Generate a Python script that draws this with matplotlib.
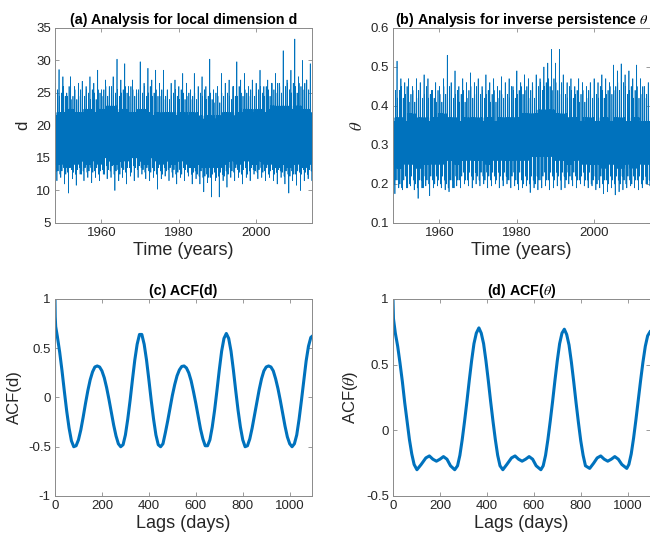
import numpy as np
import matplotlib
matplotlib.use("Agg")
import matplotlib.pyplot as plt
from matplotlib.ticker import FuncFormatter

plt.rcParams['font.family'] = ['Liberation Sans', 'DejaVu Sans']
plt.rcParams['mathtext.fontset'] = 'stix'
plt.rcParams['axes.unicode_minus'] = False

# ---- data ----
years = np.arange(1948, 2015)

# local dimension d: yearly spike max / trough min
d_top = [26.5, 28.6, 27.5, 25.0, 27.5, 26.0, 26.5, 26.8, 26.0, 27.5,
         26.5, 28.5, 25.5, 27.0, 26.0, 27.5, 30.2, 27.0, 29.5, 26.0,
         27.0, 25.5, 29.8, 26.5, 28.8, 27.0, 28.5, 26.5, 28.5, 25.5,
         26.5, 27.0, 26.0, 28.0, 26.5, 25.5, 28.0, 26.0, 27.5, 26.0,
         30.2, 25.5, 26.0, 28.0, 26.5, 27.0, 26.0, 29.8, 27.0, 28.0,
         26.0, 27.0, 26.5, 28.5, 26.0, 27.0, 26.5, 28.0, 26.5, 31.5,
         27.0, 28.5, 33.3, 27.5, 30.0, 27.0, 29.5]
d_bot = [11.5, 12.0, 11.0, 9.6, 11.8, 10.8, 12.5, 11.5, 12.0, 11.2,
         12.0, 11.5, 12.5, 11.8, 12.0, 10.0, 11.5, 12.0, 11.0, 12.2,
         11.5, 12.0, 12.5, 11.8, 11.5, 12.0, 10.2, 11.8, 12.2, 11.5,
         12.0, 11.0, 12.0, 11.5, 12.2, 11.0, 11.8, 11.0, 9.8, 11.2,
         9.0, 11.5, 9.0, 11.5, 10.5, 12.0, 11.5, 12.0, 11.0, 12.0,
         11.5, 12.5, 11.8, 12.0, 11.5, 12.0, 11.5, 11.0, 12.0, 11.0,
         9.6, 11.5, 10.8, 10.0, 11.5, 11.8, 11.5]
# secondary (shoulder) highs and lows per year
d_hi2 = [25.0, 24.5, 26.0, 24.5, 24.0, 25.5, 24.5, 25.0, 25.5, 24.0,
         25.0, 25.5, 24.5, 26.0, 25.0, 24.5, 25.5, 25.0, 26.0, 24.5,
         25.5, 25.0, 24.5, 26.0, 25.0, 24.5, 25.5, 24.5, 24.0, 25.0,
         24.5, 25.5, 24.0, 25.0, 24.5, 24.0, 25.0, 25.5, 24.5, 24.0,
         25.0, 23.5, 24.5, 25.0, 24.0, 24.5, 26.0, 24.5, 25.0, 25.5,
         24.5, 25.5, 25.0, 26.0, 24.5, 25.5, 26.5, 25.0, 26.0, 25.5,
         26.5, 25.0, 26.0, 26.5, 25.5, 27.0, 25.5]
d_lo2 = [13.0, 12.5, 13.5, 12.8, 13.2, 12.5, 13.5, 13.0, 12.8, 13.5,
         13.0, 12.5, 13.2, 13.8, 13.0, 12.5, 13.2, 13.5, 12.8, 13.5,
         13.8, 13.2, 13.5, 12.8, 13.0, 13.5, 12.5, 13.0, 13.5, 13.2,
         12.8, 12.5, 13.2, 13.5, 12.8, 12.5, 13.0, 12.2, 12.0, 12.5,
         12.0, 12.8, 12.2, 12.5, 13.0, 13.5, 12.8, 13.2, 12.5, 13.5,
         13.0, 13.2, 12.8, 13.5, 13.0, 12.5, 13.2, 12.8, 13.0, 12.2,
         12.5, 13.0, 12.5, 12.8, 13.2, 12.5, 13.0]
# edges of the solid core per year
d_core_hi = [21.5, 22.0, 21.0, 22.5, 21.5, 21.0, 22.0, 21.5, 22.5, 21.0,
             22.0, 22.5, 21.5, 22.0, 23.0, 22.0, 21.5, 22.5, 22.0, 21.0,
             22.0, 21.5, 22.5, 22.0, 21.0, 21.5, 22.0, 21.0, 21.5, 22.0,
             21.0, 21.5, 22.0, 21.5, 21.0, 22.0, 21.5, 21.0, 20.5, 21.5,
             21.0, 20.5, 21.5, 21.0, 22.0, 21.5, 21.0, 22.0, 21.5, 22.5,
             22.0, 21.5, 22.5, 22.0, 21.5, 22.5, 23.0, 22.0, 22.5, 23.0,
             22.0, 22.5, 23.0, 22.0, 22.5, 22.0, 21.5]
d_core_lo = [14.0, 14.5, 14.0, 13.5, 14.5, 14.0, 15.0, 14.5, 14.0, 15.0,
             14.5, 14.0, 15.0, 15.5, 14.5, 14.0, 14.5, 15.0, 14.5, 15.0,
             15.5, 15.0, 14.5, 14.0, 15.0, 15.5, 14.5, 14.0, 15.0, 14.5,
             14.0, 14.5, 15.0, 14.5, 14.0, 13.5, 14.5, 14.0, 13.5, 14.0,
             13.5, 14.0, 13.5, 14.0, 14.5, 15.0, 14.5, 14.0, 14.5, 15.0,
             14.5, 14.0, 15.0, 14.5, 14.0, 14.5, 14.0, 13.5, 14.5, 14.0,
             13.5, 14.0, 14.5, 14.0, 13.5, 14.0, 14.5]

# inverse persistence theta
th_top = [0.44, 0.515, 0.47, 0.46, 0.47, 0.45, 0.47, 0.46, 0.48, 0.47,
          0.44, 0.46, 0.45, 0.47, 0.53, 0.46, 0.49, 0.45, 0.47, 0.46,
          0.485, 0.46, 0.47, 0.45, 0.48, 0.46, 0.47, 0.45, 0.475, 0.46,
          0.47, 0.45, 0.49, 0.46, 0.48, 0.47, 0.46, 0.48, 0.47, 0.50,
          0.51, 0.545, 0.51, 0.545, 0.48, 0.46, 0.47, 0.45, 0.47, 0.46,
          0.45, 0.46, 0.47, 0.46, 0.48, 0.47, 0.46, 0.505, 0.49, 0.508,
          0.48, 0.49, 0.47, 0.505, 0.47, 0.45, 0.46]
th_bot = [0.175, 0.19, 0.185, 0.19, 0.195, 0.185, 0.163, 0.19, 0.195, 0.17,
          0.19, 0.195, 0.19, 0.185, 0.18, 0.19, 0.195, 0.19, 0.2, 0.195,
          0.19, 0.2, 0.195, 0.2, 0.19, 0.195, 0.2, 0.19, 0.195, 0.2,
          0.19, 0.195, 0.185, 0.19, 0.195, 0.178, 0.19, 0.185, 0.19, 0.195,
          0.185, 0.19, 0.195, 0.185, 0.19, 0.2, 0.195, 0.19, 0.2, 0.195,
          0.19, 0.195, 0.185, 0.19, 0.175, 0.18, 0.19, 0.172, 0.18, 0.185,
          0.19, 0.195, 0.19, 0.185, 0.19, 0.2, 0.195]
th_hi2 = [0.44, 0.42, 0.45, 0.43, 0.41, 0.44, 0.42, 0.45, 0.43, 0.42,
          0.44, 0.41, 0.43, 0.45, 0.42, 0.44, 0.43, 0.41, 0.44, 0.42,
          0.45, 0.43, 0.42, 0.44, 0.43, 0.41, 0.44, 0.42, 0.43, 0.45,
          0.42, 0.44, 0.43, 0.45, 0.44, 0.42, 0.45, 0.44, 0.46, 0.45,
          0.47, 0.44, 0.46, 0.43, 0.45, 0.42, 0.44, 0.43, 0.41, 0.44,
          0.42, 0.43, 0.45, 0.42, 0.44, 0.43, 0.45, 0.44, 0.46, 0.43,
          0.45, 0.44, 0.42, 0.45, 0.43, 0.42, 0.44]
th_lo2 = [0.20, 0.21, 0.19, 0.22, 0.20, 0.21, 0.19, 0.21, 0.22, 0.20,
          0.21, 0.22, 0.20, 0.21, 0.19, 0.21, 0.22, 0.21, 0.23, 0.21,
          0.22, 0.23, 0.21, 0.22, 0.23, 0.21, 0.22, 0.23, 0.21, 0.22,
          0.21, 0.23, 0.20, 0.21, 0.22, 0.20, 0.21, 0.22, 0.21, 0.23,
          0.21, 0.22, 0.23, 0.21, 0.22, 0.23, 0.21, 0.22, 0.21, 0.23,
          0.21, 0.20, 0.22, 0.21, 0.20, 0.21, 0.22, 0.20, 0.21, 0.22,
          0.20, 0.21, 0.22, 0.21, 0.20, 0.22, 0.21]
th_core_hi = [0.36, 0.37, 0.35, 0.36, 0.38, 0.36, 0.35, 0.37, 0.36, 0.35,
              0.37, 0.36, 0.38, 0.37, 0.36, 0.37, 0.36, 0.35, 0.37, 0.36,
              0.36, 0.37, 0.35, 0.36, 0.37, 0.36, 0.35, 0.36, 0.37, 0.36,
              0.37, 0.36, 0.37, 0.38, 0.37, 0.38, 0.37, 0.38, 0.39, 0.38,
              0.39, 0.38, 0.37, 0.38, 0.37, 0.36, 0.37, 0.36, 0.35, 0.36,
              0.37, 0.36, 0.35, 0.36, 0.37, 0.36, 0.35, 0.36, 0.37, 0.36,
              0.35, 0.36, 0.37, 0.36, 0.36, 0.35, 0.36]
th_core_lo = [0.25, 0.24, 0.26, 0.25, 0.26, 0.25, 0.24, 0.26, 0.25, 0.26,
              0.25, 0.26, 0.25, 0.26, 0.27, 0.26, 0.25, 0.26, 0.27, 0.26,
              0.27, 0.26, 0.27, 0.26, 0.25, 0.26, 0.27, 0.26, 0.27, 0.26,
              0.26, 0.27, 0.26, 0.27, 0.26, 0.27, 0.28, 0.27, 0.28, 0.27,
              0.28, 0.27, 0.26, 0.27, 0.26, 0.25, 0.26, 0.27, 0.26, 0.25,
              0.26, 0.25, 0.26, 0.25, 0.24, 0.25, 0.26, 0.25, 0.24, 0.25,
              0.26, 0.25, 0.24, 0.25, 0.26, 0.25, 0.26]

# autocorrelation functions
lag_d = [0, 1, 3, 10, 20, 30, 40, 50, 60, 70, 80, 90, 100, 110, 120, 130, 140, 150, 160, 170,
         180, 190, 200, 210, 220, 230, 240, 250, 260, 270, 280, 290, 300, 310, 320, 330, 340,
         350, 360, 370, 380, 390, 400, 410, 420, 430, 440, 450, 460, 470, 480, 490, 500, 510,
         520, 530, 540, 550, 560, 570, 580, 590, 600, 610, 620, 630, 640, 650, 660, 670, 680,
         690, 700, 710, 720, 730, 740, 750, 760, 770, 780, 790, 800, 810, 820, 830, 840, 850,
         860, 870, 880, 890, 900, 910, 920, 930, 940, 950, 960, 970, 980, 990, 1000, 1010,
         1020, 1030, 1040, 1050, 1060, 1070, 1080, 1090, 1095]
acf_d = [1.0, 0.82, 0.72, 0.62, 0.46, 0.27, 0.06, -0.14, -0.31, -0.44, -0.50, -0.49, -0.43,
         -0.33, -0.20, -0.06, 0.07, 0.18, 0.26, 0.31, 0.32, 0.31, 0.27, 0.20, 0.10, -0.02,
         -0.15, -0.28, -0.39, -0.47, -0.50, -0.48, -0.38, -0.22, -0.03, 0.18, 0.38, 0.54,
         0.64, 0.64, 0.54, 0.38, 0.18, -0.03, -0.22, -0.38, -0.48, -0.50, -0.47, -0.36,
         -0.24, -0.11, 0.02, 0.13, 0.22, 0.28, 0.315, 0.32, 0.30, 0.25, 0.17, 0.06, -0.06,
         -0.19, -0.32, -0.42, -0.49, -0.49, -0.43, -0.30, -0.13, 0.07, 0.28, 0.47, 0.60,
         0.65, 0.60, 0.47, 0.28, 0.07, -0.13, -0.30, -0.43, -0.50, -0.49, -0.42, -0.31,
         -0.18, -0.05, 0.08, 0.19, 0.27, 0.31, 0.32, 0.31, 0.27, 0.19, 0.09, -0.03, -0.16,
         -0.29, -0.40, -0.47, -0.50, -0.47, -0.38, -0.22, -0.03, 0.17, 0.37, 0.52, 0.61, 0.62]

lag_th = [0, 2, 10, 20, 30, 40, 50, 60, 70, 80, 90, 102, 120, 140, 155, 170, 185, 200, 215,
          230, 245, 263, 275, 285, 295, 305, 315, 325, 335, 345, 355, 366, 376, 386, 396,
          406, 416, 426, 436, 446, 456, 468, 485, 505, 520, 535, 550, 565, 580, 595, 610,
          630, 640, 650, 660, 670, 680, 690, 700, 710, 720, 730, 740, 750, 760, 770, 780,
          790, 800, 810, 820, 838, 855, 870, 885, 900, 915, 930, 945, 960, 975, 996, 1005,
          1015, 1025, 1035, 1045, 1055, 1065, 1075, 1085, 1095]
acf_th = [1.0, 0.85, 0.74, 0.64, 0.51, 0.37, 0.21, 0.07, -0.07, -0.18, -0.26, -0.30, -0.26,
          -0.21, -0.195, -0.22, -0.235, -0.22, -0.20, -0.22, -0.27, -0.30, -0.27, -0.19,
          -0.07, 0.07, 0.22, 0.38, 0.53, 0.66, 0.74, 0.78, 0.74, 0.66, 0.53, 0.38, 0.22,
          0.07, -0.07, -0.19, -0.27, -0.30, -0.26, -0.21, -0.195, -0.22, -0.235, -0.22,
          -0.20, -0.22, -0.27, -0.30, -0.27, -0.19, -0.07, 0.07, 0.22, 0.38, 0.53, 0.66,
          0.74, 0.77, 0.73, 0.65, 0.52, 0.37, 0.21, 0.06, -0.08, -0.19, -0.27, -0.29,
          -0.25, -0.21, -0.195, -0.22, -0.235, -0.22, -0.20, -0.22, -0.26, -0.29, -0.26,
          -0.18, -0.06, 0.08, 0.23, 0.38, 0.52, 0.64, 0.72, 0.75]

blue = '#0072BD'
axcol = '#8a8a8a'
txtcol = '#262626'


def dense_series(top, bot, hi2, lo2, c_hi, c_lo):
    # lay the read extremes, shoulders and core edges one after another in each year
    hi2b, lo2b = np.roll(hi2, 1), np.roll(lo2, 1)
    c_hi_p, c_lo_p = np.roll(c_hi, 1), np.roll(c_lo, 1)
    c_hi_n, c_lo_n = np.roll(c_hi, -1), np.roll(c_lo, -1)
    xs, ys = [], []
    for i, yr in enumerate(years):
        seq = [c_hi[i], top[i], c_lo[i], hi2[i], c_lo_p[i], c_hi_n[i], lo2[i], c_hi[i],
               c_lo_n[i], c_hi_p[i], bot[i], c_hi[i], c_lo[i], hi2b[i], c_lo_p[i], c_hi[i],
               lo2b[i], c_hi_n[i], c_lo[i], c_hi_p[i]]
        for k, v in enumerate(seq):
            xs.append(yr + k / len(seq))
            ys.append(v)
    return np.array(xs), np.array(ys)


def style(ax):
    for s in ax.spines.values():
        s.set_color(axcol)
        s.set_linewidth(0.7)
    ax.tick_params(direction='in', top=True, right=True, length=3, width=0.6,
                   color=axcol, labelcolor=txtcol, labelsize=9.5, pad=3)
    ax.yaxis.set_major_formatter(FuncFormatter(lambda v, p: '%g' % round(v, 3)))


fig = plt.figure(figsize=(6.5, 5.39), dpi=100)
ax1 = fig.add_axes([0.0846, 0.5863, 0.3954, 0.3618])
ax2 = fig.add_axes([0.6046, 0.5863, 0.3954, 0.3618])
ax3 = fig.add_axes([0.0846, 0.0798, 0.3954, 0.3655])
ax4 = fig.add_axes([0.6046, 0.0798, 0.3954, 0.3655])

xlab = dict(fontsize=13, color=txtcol, labelpad=2)
ylab = dict(fontsize=12, color=txtcol)
tit = dict(fontsize=10.3, fontweight='bold', pad=3)

x, y = dense_series(d_top, d_bot, d_hi2, d_lo2, d_core_hi, d_core_lo)
ax1.plot(x, y, color=blue, lw=0.5)
ax1.set_xlim(1948, 2014.5)
ax1.set_ylim(5, 35)
ax1.set_xticks([1960, 1980, 2000])
ax1.set_yticks([5, 10, 15, 20, 25, 30, 35])
ax1.set_xlabel('Time (years)', **xlab)
ax1.set_ylabel('d', **ylab)
ax1.set_title('(a) Analysis for local dimension d', **tit)

x, y = dense_series(th_top, th_bot, th_hi2, th_lo2, th_core_hi, th_core_lo)
ax2.plot(x, y, color=blue, lw=0.5)
ax2.set_xlim(1948, 2014.5)
ax2.set_ylim(0.1, 0.6)
ax2.set_xticks([1960, 1980, 2000])
ax2.set_yticks([0.1, 0.2, 0.3, 0.4, 0.5, 0.6])
ax2.set_xlabel('Time (years)', **xlab)
ax2.set_ylabel(r'$\theta$', **ylab)
ax2.set_title(r'(b) Analysis for inverse persistence $\theta$', **tit)

ax3.plot(lag_d, acf_d, color=blue, lw=2.2)
ax3.set_xlim(0, 1095)
ax3.set_ylim(-1, 1)
ax3.set_xticks([0, 200, 400, 600, 800, 1000])
ax3.set_yticks([-1, -0.5, 0, 0.5, 1])
ax3.set_xlabel('Lags (days)', **xlab)
ax3.set_ylabel('ACF(d)', **ylab)
ax3.set_title('(c) ACF(d)', **tit)

ax4.plot(lag_th, acf_th, color=blue, lw=2.2)
ax4.set_xlim(0, 1095)
ax4.set_ylim(-0.5, 1)
ax4.set_xticks([0, 200, 400, 600, 800, 1000])
ax4.set_yticks([-0.5, 0, 0.5, 1])
ax4.set_xlabel('Lags (days)', **xlab)
ax4.set_ylabel(r'ACF($\theta$)', **ylab)
ax4.set_title(r'(d) ACF($\theta$)', **tit)

for ax in (ax1, ax2, ax3, ax4):
    style(ax)

fig.savefig('out.png', dpi=100)
